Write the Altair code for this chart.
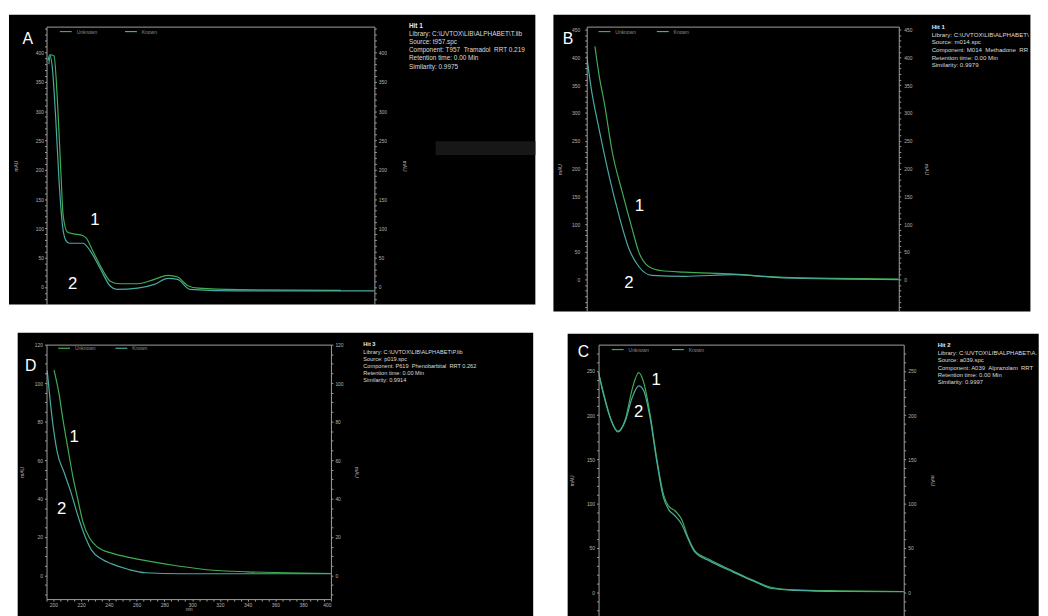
import altair as alt
import pandas as pd

FONT = "Liberation Sans"
GREEN = "#3fae52"
TEAL = "#49aaa2"
FRAME = "#a0a0a0"
AXTXT = "#b4b4b4"
SERIES = ["Unknown", "Known"]
SP = " \u00a0"  # double space that survives SVG whitespace collapsing

# ---------------- Panel A : Tramadol ----------------
A_WL_1 = [196.5, 197.5, 199.7, 201.8, 204, 205.4, 208, 211.4, 217.8, 220, 224, 230.5, 234.8, 241, 252, 262.4, 271, 277, 283.7, 290, 315.6, 379]
A_VAL_1 = [380, 396, 394, 319, 195, 122, 94, 91, 87.5, 83, 61, 27, 10, 5.6, 5.6, 13, 20, 17, 1.7, -2, -4.5, -5.6]
A_WL_2 = [196, 197, 198.6, 200.7, 202.9, 205, 207, 209.3, 217.8, 222, 228.4, 234.8, 239, 252, 262.4, 271, 277, 284.6, 315.6, 400]
A_VAL_2 = [386, 396, 375, 290, 178, 105, 80, 74.6, 74.6, 63, 32.5, 1.7, -4, -2, 4.5, 14.6, 13, -4, -6.7, -6.7]
A_MARK_WL = [225.2, 211.4]
A_MARK_VAL = [114, 4.5]
A_INFO = ["Hit 1", "Library: C:\\UVTOX\\LIB\\ALPHABET\\T.lib", "Source: t957.spc",
          "Component: T957" + SP + "Tramadol" + SP + "RRT 0.219", "Retention time: 0.00 Min", "Similarity: 0.9975"]

# ---------------- Panel B : Methadone ----------------
B_WL_1 = [200.4, 203.2, 206.5, 211.9, 218.4, 224.8, 229.2, 235.7, 244.3, 259.4, 291.9, 324.3, 400]
B_VAL_1 = [420, 367, 319, 228, 157, 92, 50, 23.7, 16, 13.6, 10, 4, 1.2]
B_WL_2 = [195, 197.8, 203.2, 209.7, 216.2, 222.7, 229.2, 237.8, 259.4, 291.9, 324.3, 400]
B_VAL_2 = [403, 347, 270, 187, 115.6, 56, 23.7, 7.7, 6, 8.9, 3, 0]
B_MARK_WL = [229.6, 222.7]
B_MARK_VAL = [132, -6]
B_INFO = ["Hit 1", "Library: C:\\UVTOX\\LIB\\ALPHABET\\M", "Source: m014.spc",
          "Component: M014" + SP + "Methadone" + SP + "RRT 1", "Retention time: 0.00 Min", "Similarity: 0.9979"]

# ---------------- Panel D : Phenobarbital ----------------
D_WL_1 = [200.4, 204, 206.5, 210.2, 213.9, 217.5, 221.2, 226.1, 232.2, 242, 254.3, 266.5, 291, 315.5, 340, 379.2, 400]
D_VAL_1 = [106.8, 94.5, 82.6, 67, 51.8, 39.8, 27.9, 19.3, 14.5, 11.6, 9.4, 7.7, 4.8, 2.7, 1.9, 1.2, 1]
D_WL_2 = [195.5, 199.2, 202.8, 207.7, 212.6, 217.5, 222.4, 227.3, 234.7, 242, 254.3, 266.5, 291, 340, 400]
D_VAL_2 = [106.5, 80.9, 63.8, 53.5, 43.2, 31.3, 21, 13.3, 8.5, 6, 3.1, 1.4, 0.9, 0.9, 0.9]
D_MARK_WL = [215, 206]
D_MARK_VAL = [72, 34.4]
D_INFO = ["Hit 3", "Library: C:\\UVTOX\\LIB\\ALPHABET\\P.lib", "Source: p019.spc",
          "Component: P619" + SP + "Phenobarbital" + SP + "RRT 0.262", "Retention time: 0.00 Min", "Similarity: 0.9914"]

# ---------------- Panel C : Alprazolam ----------------
C_WL_1 = [195, 198.8, 203.2, 208, 213.1, 217.6, 222, 225.3, 229.7, 234.1, 238.6, 241.9, 246.3, 250.7, 255.1, 259.6, 269.5, 285, 298.3, 311.5, 327, 358, 400]
C_VAL_1 = [248, 222, 196, 182, 196, 229.5, 248, 237, 200, 151, 110.5, 97.5, 92, 82.6, 62, 47, 36.8, 24.2, 13.8, 5.2, 2.6, 1.5, 0.7]
C_WL_2 = [195, 198.8, 203.2, 208, 213.1, 217.6, 222, 225.3, 229.7, 234.1, 238.6, 241.9, 246.3, 250.7, 255.1, 259.6, 269.5, 285, 298.3, 311.5, 327, 358, 400]
C_VAL_2 = [248, 220, 195, 181, 194, 220, 233, 227.7, 196, 147.7, 106.8, 93.8, 86.3, 77, 60.3, 45.4, 35.3, 23, 13, 4.1, 1.9, 0.7, 0.4]
C_MARK_WL = [233.7, 222]
C_MARK_VAL = [240, 203.5]
C_INFO = ["Hit 2", "Library: C:\\UVTOX\\LIB\\ALPHABET\\A.lib", "Source: a039.spc",
          "Component: A039" + SP + "Alprazolam" + SP + "RRT 0.7", "Retention time: 0.00 Min", "Similarity: 0.9997"]

ONE = pd.DataFrame({"k": [0]})
CUT = "\u200b"  # invisible truncation marker: text is simply cut at the panel edge


def long_df(wl1, v1, wl2, v2):
    rows = [{"wl": x, "val": y, "series": SERIES[0]} for x, y in zip(wl1, v1)]
    rows += [{"wl": x, "val": y, "series": SERIES[1]} for x, y in zip(wl2, v2)]
    return pd.DataFrame(rows)


def panel(wl1, v1, wl2, v2, mwl, mval, info, letter, cfg):
    df = long_df(wl1, v1, wl2, v2)
    xs = alt.Scale(domain=[195, 400], nice=False, zero=False)
    ys = alt.Scale(domain=cfg["ydom"], nice=False, zero=False)
    step = cfg["ystep"]
    lab = f"datum.value % {step} === 0 && datum.value >= 0 ? datum.label : ''"
    common = dict(values=cfg["yticks"], labelExpr=lab, tickSize=2, tickColor=FRAME,
                  domainColor=FRAME, labelColor=AXTXT, labelFontSize=5, labelFont=FONT,
                  title="mAU", titleFont=FONT, titleFontSize=5, titleColor=AXTXT,
                  titleFontWeight="normal", grid=False, zindex=1)
    left = alt.Axis(orient="left", labelPadding=cfg["lpad"], titlePadding=cfg["ltp"], **common)
    right = alt.Axis(orient="right", labelPadding=cfg["rpad"], titlePadding=cfg["rtp"], **common)
    top = alt.Axis(orient="top", labels=False, ticks=False, domain=True, domainColor=FRAME,
                   title=None, grid=False, zindex=1)
    if cfg.get("xaxis"):
        bottom = alt.Axis(orient="bottom", values=list(range(195, 401, 5)),
                          labelExpr="datum.value % 20 === 0 ? datum.label : ''",
                          tickSize=2, tickColor=FRAME, domainColor=FRAME, labelColor=AXTXT,
                          labelFontSize=5, labelFont=FONT, labelPadding=1, title="nm",
                          titleFont=FONT, titleFontSize=5, titleColor=AXTXT,
                          titleFontWeight="normal", titlePadding=0, grid=False, zindex=1)
    else:
        bottom = None

    bx0, bx1, by0, by1 = cfg["bg"]
    layers = [alt.Chart(ONE).mark_rect(color="black").encode(
        x=alt.value(bx0), x2=alt.value(bx1), y=alt.value(by0), y2=alt.value(by1))]
    if "bar" in cfg:
        gx0, gx1, gy0, gy1 = cfg["bar"]
        layers.append(alt.Chart(ONE).mark_rect(color="#171717").encode(
            x=alt.value(gx0), x2=alt.value(gx1), y=alt.value(gy0), y2=alt.value(gy1)))

    lx, ly, cpad = cfg["legend"]
    legend = alt.Legend(orient="none", legendX=lx, legendY=ly, direction="horizontal",
                        title=None, symbolType="stroke", symbolSize=144, symbolStrokeWidth=1.2,
                        labelFontSize=5, labelColor="#8c8c8c", labelFont=FONT, labelOffset=4,
                        columnPadding=cpad, padding=0, zindex=1)
    lines = alt.Chart(df).mark_line(strokeWidth=1.2, interpolate="monotone", clip=True).encode(
        x=alt.X("wl:Q", scale=xs, axis=top),
        y=alt.Y("val:Q", scale=ys, axis=left),
        color=alt.Color("series:N", scale=alt.Scale(domain=SERIES, range=[GREEN, TEAL]),
                        legend=legend, sort=SERIES),
    )
    ghost = alt.Chart(df).mark_line(opacity=0, clip=True).encode(
        x=alt.X("wl:Q", scale=xs, axis=bottom),
        y=alt.Y("val:Q", scale=ys, axis=right),
        detail="series:N",
    )
    ann = alt.Chart(pd.DataFrame({"wl": mwl, "val": mval, "t": ["1", "2"]})).mark_text(
        color="white", fontSize=17, font=FONT).encode(
        x=alt.X("wl:Q", scale=xs, axis=None),
        y=alt.Y("val:Q", scale=ys, axis=None),
        text="t:N",
    )
    lpx, lpy = cfg["letter"]
    let = alt.Chart(ONE).mark_text(color="white", fontSize=16, font=FONT).encode(
        x=alt.value(lpx), y=alt.value(lpy), text=alt.value(letter))
    tx, ty, fs, lh, lim = cfg["info"]
    hit = alt.Chart(ONE).mark_text(align="left", baseline="top", color="#e8e8e8", fontSize=fs,
                                   font=FONT, fontWeight="bold", limit=lim, ellipsis=CUT).encode(
        x=alt.value(tx), y=alt.value(ty), text=alt.value(info[0]))
    rest = alt.Chart(ONE).mark_text(align="left", baseline="top", color="#dcdcdc", fontSize=fs,
                                    font=FONT, lineBreak="\n", lineHeight=lh, limit=lim,
                                    ellipsis=CUT).encode(
        x=alt.value(tx), y=alt.value(ty + lh), text=alt.value("\n".join(info[1:])))
    layers += [lines, ghost, ann, let, hit, rest]
    return alt.layer(*layers).resolve_axis(x="independent", y="independent").properties(
        width=cfg["w"], height=cfg["h"])


pa = panel(A_WL_1, A_VAL_1, A_WL_2, A_VAL_2, A_MARK_WL, A_MARK_VAL, A_INFO, "A", dict(
    w=332, h=281.5, ydom=[-30, 444], ystep=50, yticks=list(range(-20, 441, 10)),
    lpad=1, ltp=17, rpad=2, rtp=15, bg=(-38, 495, -12, 281.5),
    bar=(394, 495, 116, 130), legend=(12.5, -2, 25), letter=(-19, 13),
    info=(367, -3.5, 6.5, 8.2, 127)))

pb = panel(B_WL_1, B_VAL_1, B_WL_2, B_VAL_2, B_MARK_WL, B_MARK_VAL, B_INFO, "B", dict(
    w=316, h=288.5, ydom=[-57.4, 455.5], ystep=50, yticks=list(range(-50, 451, 10)),
    lpad=5, ltp=9, rpad=3, rtp=12, bg=(-33.7, 449.3, -12, 288.5),
    legend=(11, -2, 18), letter=(-19, 13),
    info=(349.3, -2.6, 6.2, 7.8, 99)))

pd_ = panel(D_WL_1, D_VAL_1, D_WL_2, D_VAL_2, D_MARK_WL, D_MARK_VAL, D_INFO, "D", dict(
    w=288, h=257.7, ydom=[-12.3, 120], ystep=20, yticks=list(range(-10, 121, 5)),
    lpad=2, ltp=10, rpad=2, rtp=11, bg=(-29.2, 492.8, -12, 275), xaxis=True,
    legend=(10.8, -3.3, 17), letter=(-16, 22),
    info=(320.8, -3.1, 5.7, 7.1, 170)))

pc = panel(C_WL_1, C_VAL_1, C_WL_2, C_VAL_2, C_MARK_WL, C_MARK_VAL, C_INFO, "C", dict(
    w=309, h=275, ydom=[-27.2, 279.7], ystep=50, yticks=list(range(-20, 271, 10)),
    lpad=2, ltp=12, rpad=2, rtp=14, bg=(-31.3, 445.7, -11, 275),
    legend=(12.4, -2, 20), letter=(-15.3, 8),
    info=(343.4, -2.3, 6, 7.5, 101)))

row1 = alt.hconcat(pa, pb, spacing=16).resolve_scale(color="independent")
row2 = alt.hconcat(pd_, pc, spacing=33).resolve_scale(color="independent")

chart = alt.vconcat(row1, row2, spacing=20).resolve_scale(color="independent").properties(
    padding={"left": 0, "top": 2, "right": 0, "bottom": 0}, background="white"
).configure_view(stroke="transparent")

chart.save("out.html", embed_options={"renderer": "svg", "actions": False})
